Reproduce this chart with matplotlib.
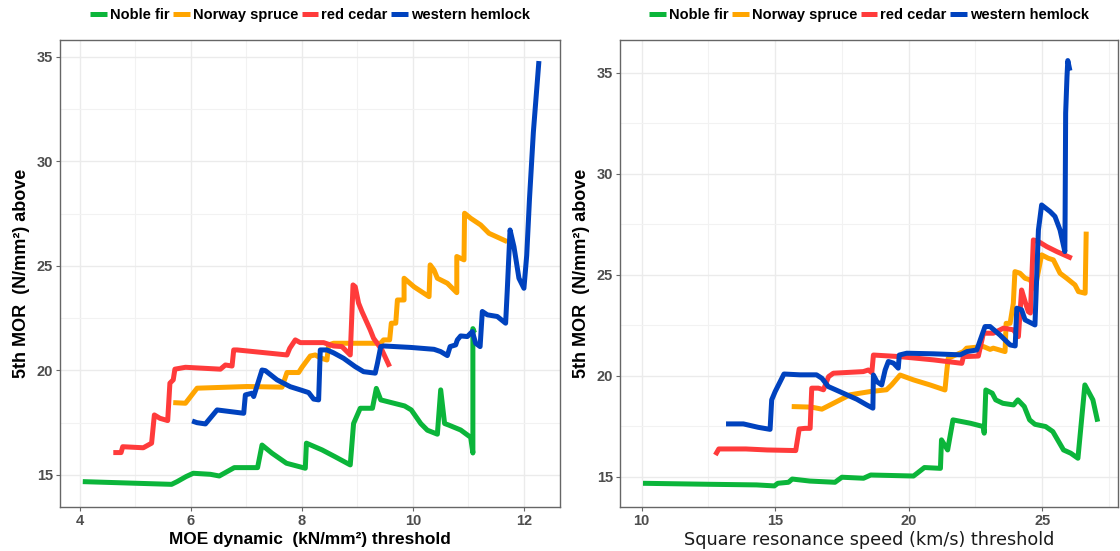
import matplotlib
matplotlib.use("Agg")
import matplotlib.pyplot as plt
from matplotlib.ticker import MultipleLocator

# Species and colours (legend order)
species = ["Noble fir", "Norway spruce", "red cedar", "western hemlock"]
colours = ["#0BB53A", "#FFA500", "#FF3B3B", "#0042BE"]

# --- left panel: MOE dynamic threshold (kN/mm2) vs 5th percentile MOR above ---
noble_moe_x = [4.05, 5.65, 5.75, 5.91, 6.04, 6.35, 6.51, 6.78, 7.20, 7.28, 7.46, 7.72,
               8.06, 8.08, 8.36, 8.59, 8.87, 8.93, 9.05, 9.27, 9.34, 9.42, 9.85, 9.97,
               10.14, 10.26, 10.44, 10.50, 10.57, 10.65, 10.86, 11.04, 11.08, 11.08, 11.11]
noble_moe_y = [14.68, 14.55, 14.68, 14.92, 15.08, 15.03, 14.95, 15.35, 15.35, 16.43, 16.04, 15.56,
               15.32, 16.52, 16.2, 15.88, 15.48, 17.46, 18.19, 18.19, 19.14, 18.59, 18.3, 18.11,
               17.46, 17.14, 16.95, 19.07, 17.46, 17.38, 17.15, 16.8, 16.05, 22.0, 21.8]

spruce_moe_x = [5.68, 5.90, 6.11, 7.01, 7.64, 7.73, 7.94, 8.0, 8.15, 8.24, 8.33, 8.45, 8.48,
                8.57, 9.42, 9.47, 9.58, 9.61, 9.69, 9.72, 9.84, 9.84, 10.02, 10.29, 10.31,
                10.38, 10.44, 10.62, 10.79, 10.79, 10.92, 10.93, 11.04, 11.22, 11.37, 11.70]
spruce_moe_y = [18.46, 18.43, 19.15, 19.23, 19.2, 19.9, 19.9, 20.15, 20.69, 20.74, 20.6, 20.5, 21.22,
                21.3, 21.3, 21.46, 21.46, 22.26, 22.26, 23.37, 23.37, 24.41, 24.0, 23.53, 25.05,
                24.8, 24.41, 24.17, 23.72, 25.45, 25.29, 27.52, 27.28, 26.96, 26.56, 26.16]

cedar_moe_x = [4.60, 4.74, 4.77, 5.14, 5.29, 5.34, 5.44, 5.58, 5.62, 5.68, 5.71, 5.90, 6.53,
               6.62, 6.74, 6.77, 6.83, 7.73, 7.78, 7.88, 7.97, 8.39, 8.57, 8.72, 8.87, 8.92,
               8.96, 9.02, 9.08, 9.23, 9.29, 9.44, 9.58]
cedar_moe_y = [16.07, 16.07, 16.35, 16.3, 16.52, 17.87, 17.71, 17.6, 19.39, 19.55, 20.06, 20.15, 20.06,
               20.26, 20.21, 20.98, 20.98, 20.74, 21.06, 21.46, 21.33, 21.33, 21.17, 21.14, 20.74, 24.09,
               24.0, 23.22, 22.82, 21.94, 21.54, 20.98, 20.18]

hemlock_moe_x = [6.02, 6.11, 6.26, 6.47, 6.71, 6.95, 6.98, 7.10, 7.13, 7.28, 7.34, 7.55, 7.79,
                 7.97, 8.12, 8.21, 8.30, 8.33, 8.45, 8.57, 8.75, 8.96, 9.11, 9.32, 9.36, 9.42,
                 9.47, 9.96, 10.38, 10.50, 10.62, 10.67, 10.77, 10.80, 10.86, 10.98, 11.07,
                 11.13, 11.21, 11.25, 11.34, 11.52, 11.67, 11.70, 11.75, 11.82, 11.91, 12.0,
                 12.05, 12.1, 12.17, 12.27]
hemlock_moe_y = [17.58, 17.5, 17.44, 18.11, 18.03, 17.95, 18.83, 18.91, 18.75, 20.02, 19.99, 19.55, 19.22,
                 19.07, 18.94, 18.63, 18.59, 20.98, 20.98, 20.84, 20.58, 20.18, 19.94, 19.87, 20.34, 21.14,
                 21.17, 21.1, 21.01, 20.9, 20.71, 21.14, 21.22, 21.46, 21.65, 21.62, 21.86,
                 21.3, 21.14, 22.82, 22.66, 22.58, 22.26, 23.85, 26.72, 25.92, 24.41, 23.93,
                 25.5, 28.2, 31.4, 34.8]

# --- right panel: square resonance speed threshold vs 5th percentile MOR above ---
noble_srs_x = [10.05, 12.56, 14.30, 14.97, 15.1, 15.5, 15.64, 16.3, 17.24, 17.5, 18.31, 18.58,
               20.18, 20.32, 20.59, 21.19, 21.23, 21.46, 21.66, 22.32, 22.79, 22.83, 22.89,
               23.13, 23.26, 23.53, 23.93, 24.09, 24.33, 24.53, 24.73, 25.13, 25.4, 25.8,
               26.07, 26.34, 26.6, 26.9, 27.08]
noble_srs_y = [14.67, 14.62, 14.59, 14.54, 14.67, 14.72, 14.88, 14.78, 14.72, 14.97, 14.92, 15.08,
               15.03, 15.17, 15.45, 15.41, 16.82, 16.32, 17.81, 17.64, 17.48, 17.15, 19.29,
               19.13, 18.8, 18.63, 18.55, 18.8, 18.47, 17.81, 17.59, 17.48, 17.23, 16.32,
               16.16, 15.91, 19.54, 18.8, 17.72]

spruce_srs_x = [15.62, 16.37, 16.75, 17.18, 17.8, 18.55, 19.17, 19.36, 19.68, 20.18, 20.8, 21.36,
                21.42, 21.48, 22.05, 22.17, 22.8, 23.05, 23.17, 23.61, 23.65, 23.8, 23.92,
                23.98, 24.17, 24.36, 24.55, 24.73, 24.98, 25.23, 25.42, 25.67, 25.92, 26.23,
                26.36, 26.61, 26.65]
spruce_srs_y = [18.47, 18.44, 18.34, 18.63, 19.05, 19.21, 19.3, 19.54, 20.03, 19.79, 19.54, 19.29,
                20.12, 20.86, 21.19, 21.36, 21.44, 21.3, 21.36, 21.19, 22.59, 22.59, 23.58,
                25.15, 25.07, 24.82, 24.74, 24.3, 25.98, 25.81, 25.73, 25.07, 24.82, 24.49,
                24.16, 24.08, 27.13]

cedar_srs_x = [12.76, 12.89, 13.9, 14.7, 15.77, 15.9, 16.12, 16.31, 16.37, 16.62, 16.81, 17.0,
               17.18, 18.3, 18.49, 18.62, 18.68, 19.68, 20.93, 21.99, 22.05, 22.61, 22.8,
               23.17, 23.55, 23.92, 24.11, 24.23, 24.36, 24.48, 24.56, 24.67, 24.86, 25.17,
               25.55, 26.11]
cedar_srs_y = [16.07, 16.37, 16.37, 16.32, 16.29, 17.36, 17.39, 17.39, 19.38, 19.38, 19.3, 19.95,
               20.12, 20.2, 20.28, 20.15, 21.02, 20.94, 20.78, 20.61, 20.94, 20.97, 22.1,
               22.1, 22.35, 22.27, 21.93, 24.24, 23.67, 23.17, 23.1, 26.72, 26.64, 26.39,
               26.14, 25.81]

hemlock_srs_x = [13.16, 13.81, 14.37, 14.81, 14.87, 15.0, 15.33, 15.93, 16.55, 16.75, 16.99,
                 17.55, 18.06, 18.43, 18.66, 18.68, 18.81, 18.99, 19.12, 19.24, 19.43, 19.61,
                 19.65, 19.93, 20.93, 21.93, 22.18, 22.55, 22.86, 23.05, 23.42, 23.8, 23.99,
                 24.05, 24.23, 24.36, 24.73, 24.86, 24.98, 25.3, 25.48, 25.67, 25.85, 25.86,
                 25.88, 25.93, 25.96, 26.04]
hemlock_srs_y = [17.61, 17.61, 17.44, 17.34, 18.8, 19.21, 20.08, 20.04, 20.04, 19.87, 19.46,
                 19.13, 18.83, 18.55, 18.39, 20.03, 19.7, 19.54, 20.28, 20.7, 20.62, 20.37,
                 21.02, 21.11, 21.08, 21.03, 21.19, 21.27, 22.43, 22.43, 22.01, 21.52, 21.47,
                 23.34, 23.26, 22.76, 22.51, 27.21, 28.45, 28.12, 27.88, 27.21, 26.14, 28.0,
                 33.0, 34.8, 35.6, 35.1]

moe_series = [(noble_moe_x, noble_moe_y), (spruce_moe_x, spruce_moe_y),
              (cedar_moe_x, cedar_moe_y), (hemlock_moe_x, hemlock_moe_y)]
srs_series = [(noble_srs_x, noble_srs_y), (spruce_srs_x, spruce_srs_y),
              (cedar_srs_x, cedar_srs_y), (hemlock_srs_x, hemlock_srs_y)]

plt.rcParams["font.family"] = ["Liberation Sans", "DejaVu Sans"]

fig = plt.figure(figsize=(11.2, 5.51), dpi=100)
ax1 = fig.add_axes([0.0536, 0.080, 0.4464, 0.8475])
ax2 = fig.add_axes([0.5536, 0.080, 0.4446, 0.8475])


def style_axis(ax, xmajor, ymajor):
    ax.xaxis.set_major_locator(MultipleLocator(xmajor))
    ax.xaxis.set_minor_locator(MultipleLocator(xmajor / 2))
    ax.yaxis.set_major_locator(MultipleLocator(ymajor))
    ax.yaxis.set_minor_locator(MultipleLocator(ymajor / 2))
    ax.grid(True, which="major", color="#EBEBEB", linewidth=1.0)
    ax.grid(True, which="minor", color="#F2F2F2", linewidth=0.8)
    ax.set_axisbelow(True)
    for sp in ax.spines.values():
        sp.set_color("#666666")
        sp.set_linewidth(1.0)
    ax.tick_params(which="major", length=3, width=0.8, color="#666666",
                   labelsize=10.5, labelcolor="#4D4D4D", pad=2)
    ax.tick_params(which="minor", length=0)
    for lab in ax.get_xticklabels() + ax.get_yticklabels():
        lab.set_fontweight("bold")


for ax, series in [(ax1, moe_series), (ax2, srs_series)]:
    for (xs, ys), name, col in zip(series, species, colours):
        ax.plot(xs, ys, color=col, linewidth=3.6, label=name,
                solid_joinstyle="round", solid_capstyle="butt")
    ax.legend(loc="center", bbox_to_anchor=(0.5, 1.054), ncol=4, frameon=False,
              handlelength=1.15, handletextpad=0.2, columnspacing=0.25,
              prop={"weight": "bold", "size": 10.5})

ax1.set_xlim(3.64, 12.65)
ax1.set_ylim(13.47, 35.81)
ax2.set_xlim(9.19, 27.84)
ax2.set_ylim(13.5, 36.62)

style_axis(ax1, 2, 5)
style_axis(ax2, 5, 5)

ylab = "5th MOR  (N/mm²) above"
ax1.set_ylabel(ylab, fontsize=13, fontweight="bold", labelpad=5)
ax2.set_ylabel(ylab, fontsize=13, fontweight="bold", labelpad=5)
ax1.set_xlabel("MOE dynamic  (kN/mm²) threshold", fontsize=12.4, fontweight="bold", labelpad=3)
ax2.set_xlabel("Square resonance speed (km/s) threshold", fontsize=12.7,
               family="DejaVu Sans", color="#1A1A1A", labelpad=2)

fig.savefig("out.png", dpi=100)
